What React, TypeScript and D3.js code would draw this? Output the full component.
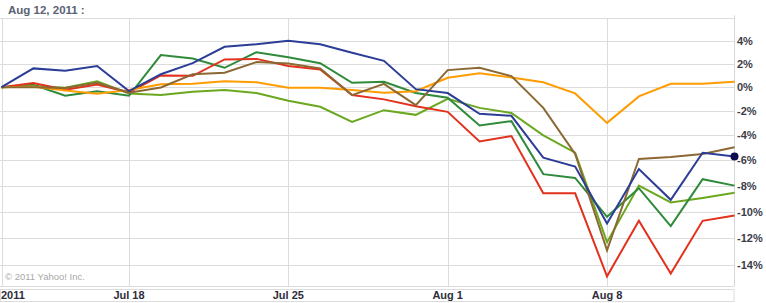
import React from "react";
import * as d3 from "d3";

const dates = [
  "Jul 12", "Jul 13", "Jul 14", "Jul 15", "Jul 18", "Jul 19", "Jul 20", "Jul 21", "Jul 22",
  "Jul 25", "Jul 26", "Jul 27", "Jul 28", "Jul 29", "Aug 1", "Aug 2", "Aug 3", "Aug 4", "Aug 5",
  "Aug 8", "Aug 9", "Aug 10", "Aug 11", "Aug 12",
];

const xTickDates = ["Jul 12", "Jul 18", "Jul 25", "Aug 1", "Aug 8"];
const xTickLabels = ["2011", "Jul 18", "Jul 25", "Aug 1", "Aug 8"];

const yTicks = [4, 2, 0, -2, -4, -6, -8, -10, -12, -14];
const yGrid = [6, 4, 2, 0, -2, -4, -6, -8, -10, -12, -14];

// percent change series
const blue = [0, 1.6, 1.4, 1.8, -0.34, 1.1, 2.05, 3.47, 3.7, 4.0, 3.7, 2.95, 2.25, -0.17, -0.5, -2.23, -2.4, -5.8, -6.5, -10.9, -6.7, -9.1, -5.4, -5.7];
const red = [0, 0.34, -0.23, 0.23, -0.45, 1.0, 0.96, 2.37, 2.42, 1.8, 1.5, -0.67, -1.03, -1.6, -2.07, -4.5, -4.06, -8.6, -8.6, -14.8, -10.7, -14.6, -10.7, -10.3];
const darkGreen = [0, 0.2, -0.73, -0.34, -0.73, 2.75, 2.46, 1.65, 3.0, 2.57, 2.05, 0.37, 0.45, -0.5, -0.9, -3.2, -2.84, -7.1, -7.4, -10.4, -8.2, -11.1, -7.5, -8.0];
const lightGreen = [0, 0.1, -0.06, 0.5, -0.53, -0.67, -0.38, -0.25, -0.5, -1.15, -1.65, -2.9, -1.93, -2.32, -0.98, -1.74, -2.17, -4.0, -5.4, -12.3, -8.0, -9.3, -8.95, -8.55];
const orange = [0, 0.06, -0.28, -0.56, -0.25, 0.25, 0.28, 0.5, 0.42, -0.06, -0.06, -0.25, -0.48, -0.34, 0.79, 1.19, 0.82, 0.42, -0.53, -2.98, -0.78, 0.28, 0.28, 0.45];
const brown = [0, 0.0, -0.08, 0.37, -0.48, -0.03, 1.1, 1.22, 2.14, 2.03, 1.6, -0.67, 0.28, -1.51, 1.45, 1.65, 0.94, -1.74, -5.5, -12.9, -5.9, -5.75, -5.5, -4.97];

const seriesList = [
  { name: "lightGreen", values: lightGreen, color: "#6ba81f" },
  { name: "darkGreen", values: darkGreen, color: "#2f8a3a" },
  { name: "red", values: red, color: "#e2311d" },
  { name: "orange", values: orange, color: "#ff9c00" },
  { name: "brown", values: brown, color: "#8c6833" },
  { name: "blue", values: blue, color: "#2b3d96" },
];

const W = 766;
const H = 303;
const plotLeft = 1.5;
const plotRight = 734.5;
const plotTop = 18.3;
const plotBottom = 286;

export default function App() {
  const x = d3.scalePoint<string>().domain(dates).range([plotLeft, plotRight]);
  const y = d3
    .scaleLog()
    .domain([0.86, 1.06])
    .range([265.3, 18.3]);
  const yp = (p: number) => y(1 + p / 100);

  const line = d3
    .line<number>()
    .x((_, i) => x(dates[i]) as number)
    .y((v) => yp(v));

  const lastBlue = blue[blue.length - 1];

  return (
    <div style={{ position: "absolute", left: 0, top: 0 }}>
      <svg width={W} height={H} style={{ display: "block", background: "#fff" }}>
        <text
          x={8}
          y={14}
          fontFamily="'Liberation Sans', Arial, sans-serif"
          fontWeight="bold"
          fontSize={11.5}
          fill="#5a6273"
        >
          Aug 12, 2011 :
        </text>

        {/* horizontal gridlines */}
        {yGrid.map((t) => (
          <line
            key={"h" + t}
            x1={0}
            x2={plotRight}
            y1={Math.round(yp(t)) + 0.5}
            y2={Math.round(yp(t)) + 0.5}
            stroke="#dcdcdc"
            strokeWidth={1}
          />
        ))}
        <line x1={0} x2={plotRight} y1={plotBottom + 0.5} y2={plotBottom + 0.5} stroke="#dcdcdc" />

        {/* vertical gridlines */}
        {xTickDates.map((d) => (
          <line
            key={"v" + d}
            x1={Math.round(x(d) as number) + 0.5}
            x2={Math.round(x(d) as number) + 0.5}
            y1={plotTop}
            y2={plotBottom}
            stroke="#dcdcdc"
          />
        ))}
        <line x1={734.5} x2={734.5} y1={plotTop - 3} y2={plotBottom} stroke="#d6d6d6" />

        {/* copyright */}
        <text
          x={5}
          y={280}
          fontFamily="'Liberation Sans', Arial, sans-serif"
          fontSize={9.5}
          fill="#a8a8a8"
        >
          © 2011 Yahoo! Inc.
        </text>

        {/* series */}
        {seriesList.map((s) => (
          <path
            key={s.name}
            d={line(s.values) as string}
            fill="none"
            stroke={s.color}
            strokeWidth={2}
            strokeLinejoin="miter"
          />
        ))}
        <circle cx={x(dates[dates.length - 1]) as number} cy={yp(lastBlue)} r={4} fill="#0b0b4f" />

        {/* right axis labels */}
        {yTicks.map((t) => (
          <text
            key={"yl" + t}
            x={737}
            y={yp(t) + 4}
            fontFamily="'Liberation Sans', Arial, sans-serif"
            fontWeight="bold"
            fontSize={11}
            fill="#3c3c48"
          >
            {t + "%"}
          </text>
        ))}

        {/* x axis band */}
        <rect x={0.5} y={289.5} width={733.5} height={12} fill="#fff" stroke="#dcdcdc" />
        {xTickDates.map((d, i) => (
          <text
            key={"xl" + d}
            x={i === 0 ? 1 : (x(d) as number)}
            y={299}
            textAnchor={i === 0 ? "start" : "middle"}
            fontFamily="'Liberation Sans', Arial, sans-serif"
            fontWeight="bold"
            fontSize={11}
            fill="#2e2e3a"
          >
            {xTickLabels[i]}
          </text>
        ))}
      </svg>
    </div>
  );
}
